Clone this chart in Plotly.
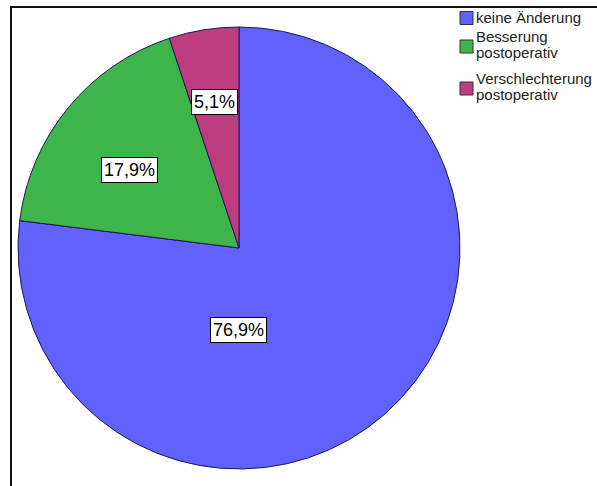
import math
import plotly.graph_objects as go

# Data
categories = ["keine Änderung", "Besserung postoperativ", "Verschlechterung postoperativ"]
legend_lines = [["keine Änderung"], ["Besserung", "postoperativ"], ["Verschlechterung", "postoperativ"]]
percentages = [76.9, 17.9, 5.1]

# Styling
W, H = 597, 486
colors = ["#6161FE", "#3DB54A", "#BE3C80"]
edge_color = "#1B1B4D"
cx, cy, R = 239, 248, 221  # pie centre and radius in pixels

# label placement: (angle clockwise from 12 o'clock in degrees, fraction of radius)
label_polar = [(180, 0.37), (305.6, 0.61), (350.3, 0.67)]


def px(x):
    return x / W


def py(y):
    return 1 - y / H


fig = go.Figure(
    go.Pie(
        labels=categories,
        values=percentages,
        sort=False,
        direction="clockwise",
        rotation=0,
        textinfo="none",
        hoverinfo="label+percent",
        marker=dict(colors=colors, line=dict(color=edge_color, width=1)),
        domain=dict(x=[px(cx - R), px(cx + R)], y=[py(cy + R), py(cy - R)]),
        showlegend=False,
    )
)

annotations = []
for val, (ang, frac) in zip(percentages, label_polar):
    a = math.radians(ang)
    x = cx + frac * R * math.sin(a)
    y = cy - frac * R * math.cos(a)
    annotations.append(
        dict(
            x=px(x), y=py(y), xref="paper", yref="paper",
            text=f"{val:.1f}%".replace(".", ","),
            showarrow=False,
            font=dict(family="Liberation Sans, Arial", size=18, color="black"),
            bgcolor="white", bordercolor="black", borderwidth=1, borderpad=2,
            xanchor="center", yanchor="middle",
        )
    )

# legend: coloured squares with labels
shapes = []
legend_first_line = [18, 36, 78]  # first text line of each entry (pixels from top)
line_step = 16.5
sq = 13
for lines, col, y0 in zip(legend_lines, colors, legend_first_line):
    yc = y0 if len(lines) == 1 else y0 + 10.5
    shapes.append(
        dict(
            type="rect", xref="paper", yref="paper",
            x0=px(460), x1=px(460 + sq), y0=py(yc + sq / 2), y1=py(yc - sq / 2),
            fillcolor=col, line=dict(color="#333333", width=1),
        )
    )
    for i, txt in enumerate(lines):
        annotations.append(
            dict(
                x=px(475), y=py(y0 + i * line_step), xref="paper", yref="paper",
                text=txt, showarrow=False, align="left",
                font=dict(family="Liberation Sans, Arial", size=15, color="#222222"),
                xanchor="left", yanchor="middle", borderpad=0,
            )
        )

# outer frame
shapes.append(
    dict(
        type="rect", xref="paper", yref="paper",
        x0=px(11), x1=px(W + 20), y0=py(H + 20), y1=py(7),
        line=dict(color="#111111", width=2), fillcolor="rgba(0,0,0,0)",
        layer="above",
    )
)

fig.update_layout(
    width=W, height=H,
    margin=dict(l=0, r=0, t=0, b=0),
    paper_bgcolor="white", plot_bgcolor="white",
    annotations=annotations, shapes=shapes,
)

fig.write_html("out.html")
